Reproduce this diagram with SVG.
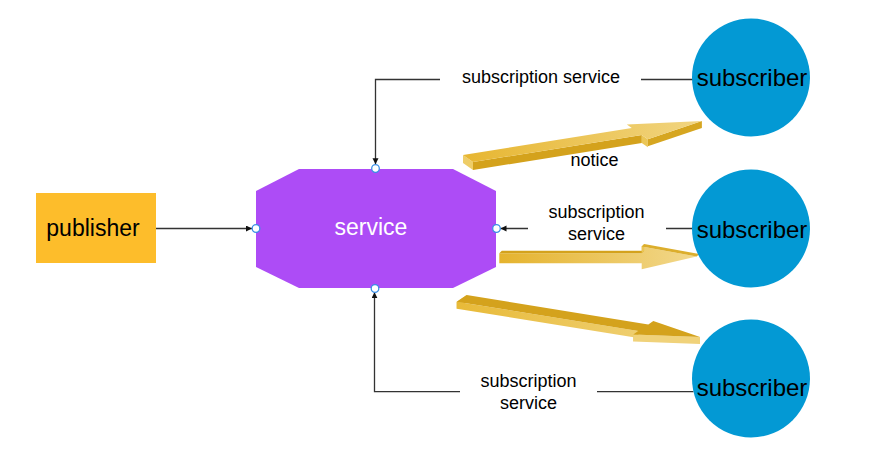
<svg xmlns="http://www.w3.org/2000/svg" width="895" height="472" viewBox="0 0 895 472">
<defs>
<style>
.lbl{font-family:"Liberation Sans",Arial,sans-serif;font-size:18px;fill:#000;text-anchor:middle}
.big{font-family:"Liberation Sans",Arial,sans-serif;text-anchor:middle}
.conn{fill:none;stroke:#333;stroke-width:1.3}
.port{fill:#fff;stroke:#3a8ee6;stroke-width:1.3}
.gap{fill:#fff}
.dark{fill:#d4a21c}
.light{fill:#eecd68}
</style>
<marker id="ah" markerUnits="userSpaceOnUse" markerWidth="7" markerHeight="7" refX="6" refY="3" orient="auto">
<path d="M0,0 L6,3 L0,6 z" fill="#111"/>
</marker>
<linearGradient id="g1" gradientUnits="userSpaceOnUse" x1="463" y1="0" x2="702" y2="0">
<stop offset="0" stop-color="#e7b631"/><stop offset="1" stop-color="#f1d581"/>
</linearGradient>
<linearGradient id="g2" gradientUnits="userSpaceOnUse" x1="499" y1="0" x2="697" y2="0">
<stop offset="0" stop-color="#e5b32d"/><stop offset="1" stop-color="#f2d88c"/>
</linearGradient>
<linearGradient id="g3" gradientUnits="userSpaceOnUse" x1="457" y1="0" x2="700" y2="0">
<stop offset="0" stop-color="#e8ba38"/><stop offset="1" stop-color="#f1d582"/>
</linearGradient>
</defs>
<rect width="895" height="472" fill="#fff"/>

<g id="connectors">
<path class="conn" d="M156,228.5 H252" marker-end="url(#ah)"/>
<path class="conn" d="M693,79.5 H375.5 V164.3" marker-end="url(#ah)"/>
<path class="conn" d="M693,228.5 H500.5" marker-end="url(#ah)"/>
<path class="conn" d="M693.5,391.7 H374.5 V292.3" marker-end="url(#ah)"/>
<rect class="gap" x="440" y="66" width="201" height="26"/>
<text class="lbl" x="541" y="83">subscription service</text>
<rect class="gap" x="528" y="200" width="138" height="46"/>
<text class="lbl" x="596.5" y="218">subscription</text>
<text class="lbl" x="596.5" y="240">service</text>
<rect class="gap" x="460" y="368" width="137" height="46"/>
<text class="lbl" x="528.5" y="387">subscription</text>
<text class="lbl" x="528.5" y="409">service</text>
</g>

<g id="arrow-notice-1">
<polygon class="light" points="463,155 473,162 473,170 463,163"/>
<polygon class="dark" points="473,162 641.8,135 641.8,143 473,170"/>
<polygon fill="#ebc656" points="641.8,135 647.8,139.2 647.8,147.2 641.8,143"/>
<polygon fill="#d6a620" points="647.8,139.2 701.9,121.1 701.9,128.1 647.8,146.2"/>
<polygon fill="url(#g1)" points="463,155 631.8,128 626.8,124.5 701.9,121.1 647.8,139.2 641.8,135 473,162"/>
<text class="lbl" x="594.5" y="166">notice</text>
</g>

<g id="arrow-notice-2">
<polygon fill="url(#g2)" points="499.3,253.3 641.7,253.3 641.7,246.5 696.7,256.5 641.7,269.3 641.7,263.3 499.3,263.3"/>
<polygon class="dark" points="499.3,253.3 501.8,250.8 644.2,250.8 641.7,253.3"/>
<polygon fill="#ebc656" points="641.7,253.3 641.7,246.5 644.2,244 644.2,250.8"/>
<polygon fill="#dcae2c" points="641.7,246.5 644.2,244 699.2,254 696.7,256.5"/>
</g>

<g id="arrow-notice-3">
<polygon class="light" points="466.7,295 456.7,301.7 456.7,308.7 466.7,302"/>
<polygon fill="url(#g3)" points="456.7,301.7 638.3,331.1 638.3,338.1 456.7,308.7"/>
<polygon fill="#ecc85c" points="638.3,331.1 633.3,334.5 633.3,341.5 638.3,338.1"/>
<polygon fill="#f0d27a" points="633.3,334.5 700,337 700,344 633.3,341.5"/>
<polygon class="dark" points="466.7,295 648.3,324.4 653.3,321 700,337 633.3,334.5 638.3,331.1 456.7,301.7"/>
</g>

<g id="publisher">
<rect x="36" y="193" width="120" height="70" fill="#fdbd2b"/>
<text class="big" x="93" y="236" font-size="23">publisher</text>
</g>

<g id="service">
<polygon points="299,169 453,169 496,191 496,267 453,288 299,288 256,267 256,191" fill="#ad4cf6"/>
<text class="big" x="371" y="234.5" font-size="23" fill="#fff">service</text>
<circle class="port" cx="375.5" cy="168.5" r="3.8"/>
<circle class="port" cx="256" cy="228.5" r="3.8"/>
<circle class="port" cx="496.5" cy="228.5" r="3.8"/>
<circle class="port" cx="375" cy="288.5" r="3.8"/>
</g>

<g id="subscriber-1">
<circle cx="751" cy="77.5" r="59" fill="#0399d4"/>
<text class="big" x="752" y="86" font-size="24">subscriber</text>
</g>
<g id="subscriber-2">
<circle cx="751" cy="228.5" r="59" fill="#0399d4"/>
<text class="big" x="752" y="237.5" font-size="24">subscriber</text>
</g>
<g id="subscriber-3">
<circle cx="751" cy="378.5" r="59" fill="#0399d4"/>
<text class="big" x="752" y="396" font-size="24">subscriber</text>
</g>
</svg>
